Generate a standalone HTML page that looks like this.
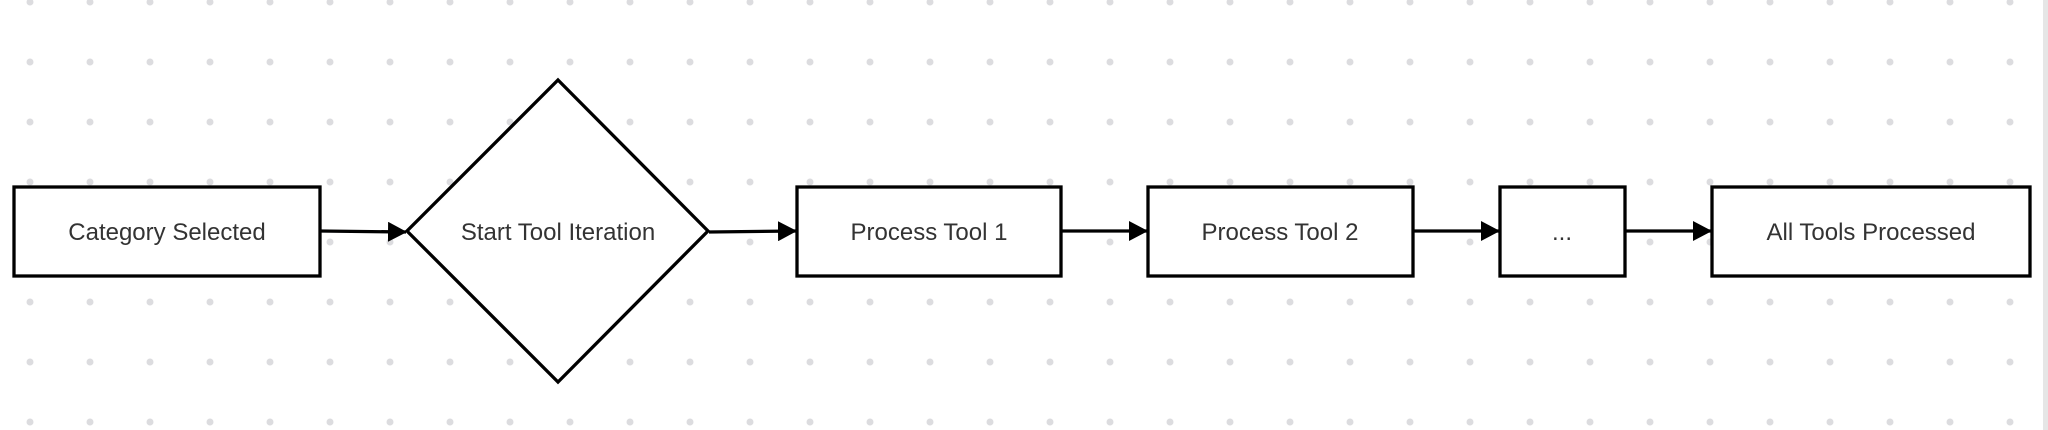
<!DOCTYPE html>
<html><head><meta charset="utf-8"><style>
html,body{margin:0;padding:0;background:#fff;}
svg{display:block;}
text{font-family:"Liberation Sans",Arial,sans-serif;font-size:24px;fill:#333;}
</style></head><body>
<svg width="2048" height="430" viewBox="0 0 2048 430" xmlns="http://www.w3.org/2000/svg">
<defs>
<pattern id="dots" x="0" y="2" width="60" height="60" patternUnits="userSpaceOnUse">
<circle cx="30" cy="0" r="3.5" fill="#dcdcdf"/>
<circle cx="30" cy="60" r="3.5" fill="#dcdcdf"/>
</pattern>
<marker id="ah" markerWidth="20" markerHeight="20" refX="18" refY="10" orient="auto" markerUnits="userSpaceOnUse">
<path d="M0,0 L19,10 L0,20 Z" fill="#000"/>
</marker>
</defs>
<rect width="2048" height="430" fill="#fff"/>
<rect width="2048" height="430" fill="url(#dots)"/>
<rect x="2043" y="0" width="5" height="430" fill="#e6e6e6"/>
<g fill="#fff" stroke="#000" stroke-width="3.3">
<rect x="14" y="187" width="306" height="89"/>
<polygon points="558,80 708,231 558,382 407,231"/>
<rect x="797" y="187" width="264" height="89"/>
<rect x="1148" y="187" width="265" height="89"/>
<rect x="1500" y="187" width="125" height="89"/>
<rect x="1712" y="187" width="318" height="89"/>
</g>
<g stroke="#000" stroke-width="3.3" fill="none">
<line x1="320" y1="231" x2="406" y2="232" marker-end="url(#ah)"/>
<line x1="709" y1="232" x2="796" y2="231" marker-end="url(#ah)"/>
<line x1="1061" y1="231" x2="1147" y2="231" marker-end="url(#ah)"/>
<line x1="1413" y1="231" x2="1499" y2="231" marker-end="url(#ah)"/>
<line x1="1625" y1="231" x2="1711" y2="231" marker-end="url(#ah)"/>
</g>
<g text-anchor="middle">
<text x="167" y="240">Category Selected</text>
<text x="558" y="240">Start Tool Iteration</text>
<text x="929" y="240">Process Tool 1</text>
<text x="1280" y="240">Process Tool 2</text>
<text x="1562" y="240">...</text>
<text x="1871" y="240">All Tools Processed</text>
</g>
</svg>
</body></html>
